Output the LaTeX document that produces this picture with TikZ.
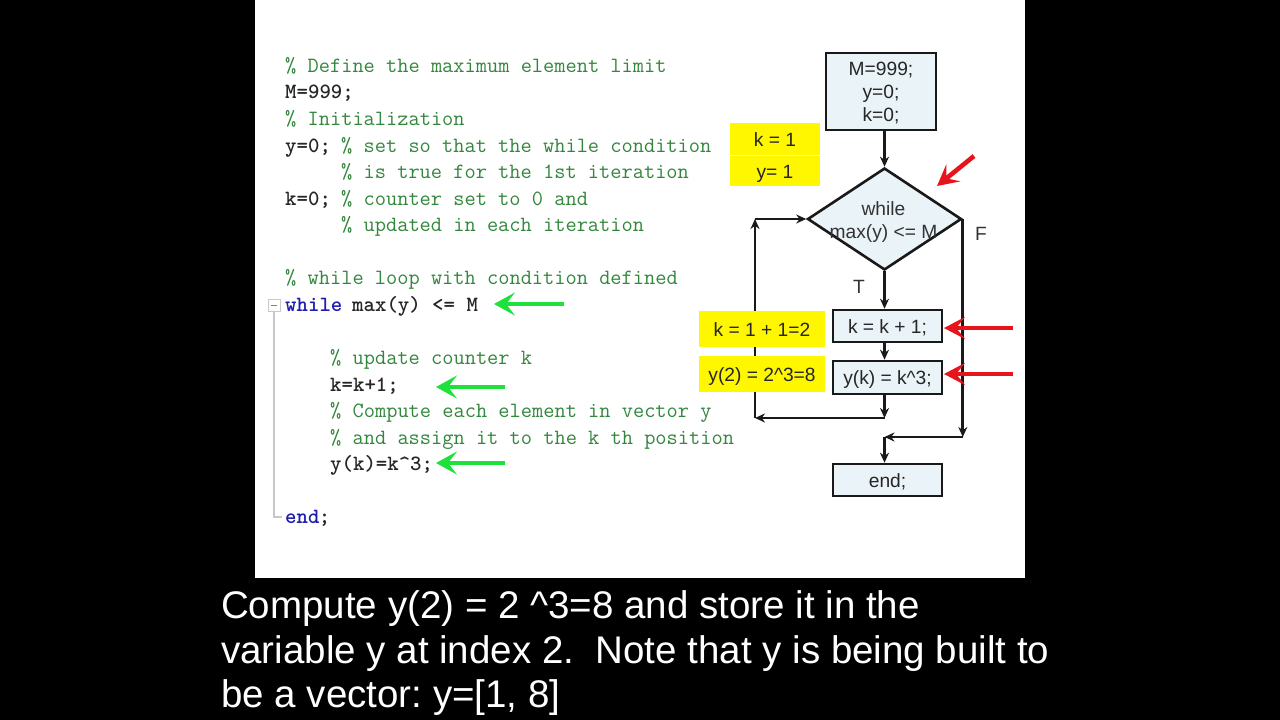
\documentclass[tikz,border=0pt]{standalone}
\usepackage{fontspec}
\setmainfont{Liberation Sans}
\usetikzlibrary{arrows.meta,shapes.geometric}
\definecolor{cmt}{RGB}{50,135,60}
\definecolor{kw}{RGB}{30,30,175}
\definecolor{boxfill}{RGB}{233,243,248}
\definecolor{hly}{RGB}{255,247,0}
\definecolor{redarr}{RGB}{232,20,28}
\definecolor{grnarr}{RGB}{30,225,60}
\definecolor{foldc}{RGB}{200,200,200}
\tikzset{
 codetx/.style={anchor=base west,inner sep=0pt,font=\fontsize{21.78}{22}\selectfont\ttfamily\bfseries,text=black!85},
 cmtx/.style={codetx,font=\fontsize{21.78}{22}\selectfont\ttfamily,text=cmt},
 kwdtx/.style={codetx,text=kw},
 flowbox/.style={draw=black!90,line width=2.6pt,fill=boxfill,inner sep=0pt,align=center,text=black!85,font=\fontsize{19.2}{23}\selectfont},
 flowone/.style={flowbox,text height=14pt,text depth=0pt},
 hlbox/.style={fill=hly,inner sep=0pt,text=black!85,font=\fontsize{19.2}{22}\selectfont,text height=14pt,text depth=0pt},
 labtx/.style={inner sep=0pt,text=black!80,font=\fontsize{19.2}{22}\selectfont},
 connline/.style={draw=black!90,line width=2.7pt,-{Stealth[length=10pt,width=9pt]}},
 redA/.style={draw=redarr,line width=4.6pt,-{Stealth[length=21pt,width=22pt,inset=9pt]}},
 grnA/.style={draw=grnarr,line width=4.6pt,-{Stealth[length=21pt,width=23pt,inset=9pt]}},
 captx/.style={anchor=base west,inner sep=0pt,text=white,font=\fontsize{38.5}{40}\selectfont}
}
\begin{document}
\frenchspacing
\begin{tikzpicture}[x=1pt,y=-1pt]
\useasboundingbox (0,0) rectangle (1280,720);
\fill[black] (0,0) rectangle (1280,720);
\fill[white] (255,0) rectangle (1025,578);
% code
\node[cmtx] (c1) at (285,72) {\% Define the maximum element limit};
\node[codetx] (c2) at (285,98) {M=999;};
\node[cmtx] (c3) at (285,125) {\% Initialization};
\node[codetx] (c4) at (285,152) {y=0;};
\node[cmtx] (c4b) at (341,152) {\% set so that the while condition};
\node[cmtx] (c5) at (341,178) {\% is true for the 1st iteration};
\node[codetx] (c6) at (285,205) {k=0;};
\node[cmtx] (c6b) at (341,205) {\% counter set to 0 and};
\node[cmtx] (c7) at (341,231) {\% updated in each iteration};
\node[cmtx] (c8) at (285,284) {\% while loop with condition defined};
\node[kwdtx] (c9) at (285,311) {while};
\node[codetx] (c9b) at (352,311) {max(y) <= M};
\node[cmtx] (c10) at (330,364) {\% update counter k};
\node[codetx] (c11) at (330,391) {k=k+1;};
\node[cmtx] (c12) at (330,417) {\% Compute each element in vector y};
\node[cmtx] (c13) at (330,444) {\% and assign it to the k th position};
\node[codetx] (c14) at (330,470) {y(k)=k\^{}3;};
\node[kwdtx] (c15) at (285,523) {end};
\node[codetx] (c15b) at (318.6,523) {;};
% fold marker
\draw[foldc,line width=1pt,fill=white] (268,299) rectangle (280,311);
\draw[black!50,line width=1pt] (271,305) -- (277,305);
\draw[foldc,line width=1.2pt] (274,311) -- (274,517) -- (282,517);
% flowchart
\node[flowbox,minimum width=110pt,minimum height=77pt] (init) at (881,91.5) {\rule{0pt}{16pt}M=999;\\y=0;\\k=0;};
\node[flowbox,diamond,minimum width=154pt,minimum height=102pt] (dec) at (884.5,219) {};
\node[labtx,align=center,font=\fontsize{19.2}{23}\selectfont] (dect) at (883.5,222) {while\\max(y) <= M};
\node[flowone,minimum width=109pt,minimum height=32pt] (kb) at (887.5,326) {k = k + 1;};
\node[flowone,minimum width=109pt,minimum height=33pt] (yb) at (887.5,377.5) {y(k) = k\textasciicircum 3;};
\node[flowone,minimum width=109pt,minimum height=32pt] (eb) at (887.5,480) {end;};
\coordinate (j1) at (dec.south |- 0,418);
\coordinate (j2) at (755,418);
\coordinate (j3) at (755,219);
\coordinate (f2) at (dec.east |- 0,437);
\coordinate (f3) at (dec.south |- 0,437);
\draw[connline] (init.south -| dec.north) -- (dec.north);
\draw[connline] (dec.south) -- (dec.south |- kb.north);
\draw[connline] (dec.south |- kb.south) -- (dec.south |- yb.north);
\draw[connline] (dec.south |- yb.south) -- (j1);
\draw[connline] (j1) -- (j2);
\draw[connline] (j2) -- (j3);
\draw[connline] (j3) -- (dec.west);
\draw[connline] (dec.east) -- (f2);
\draw[connline] (f2) -- (f3);
\draw[connline] (f3) -- (f3 |- eb.north);
\node[labtx] (tF) at (981,234) {F};
\node[labtx] (tT) at (859,287) {T};
% highlights
\node[hlbox,minimum width=90pt,minimum height=32pt] (h1) at (775,139) {k = 1};
\node[hlbox,minimum width=90pt,minimum height=30pt] (h2) at (775,171) {y= 1};
\node[hlbox,minimum width=126pt,minimum height=36pt] (h3) at (762,329) {k = 1 + 1=2};
\node[hlbox,minimum width=126pt,minimum height=36pt] (h4) at (762,374) {y(2) = 2\textasciicircum 3=8};
% pointers
\coordinate (r1s) at (974,156); \coordinate (r1e) at (937,186);
\coordinate (r2s) at (1013,328); \coordinate (r2e) at (944,328);
\coordinate (r3s) at (1013,374); \coordinate (r3e) at (944,374);
\coordinate (g1s) at (564,304); \coordinate (g1e) at (494,304);
\coordinate (g2s) at (505,387); \coordinate (g2e) at (436,387);
\coordinate (g3s) at (505,463); \coordinate (g3e) at (436,463);
\draw[redA] (r1s) -- (r1e);
\draw[redA] (r2s) -- (r2e);
\draw[redA] (r3s) -- (r3e);
\draw[grnA] (g1s) -- (g1e);
\draw[grnA] (g2s) -- (g2e);
\draw[grnA] (g3s) -- (g3e);
% caption
\node[captx] (t1) at (221,618) {Compute y(2) = 2 \textasciicircum 3=8 and store it in the};
\node[captx] (t2) at (221,663) {variable y at index 2.\ \ Note that y is being built to};
\node[captx] (t3) at (221,707) {be a vector: y=[1, 8]};
\end{tikzpicture}
\end{document}
